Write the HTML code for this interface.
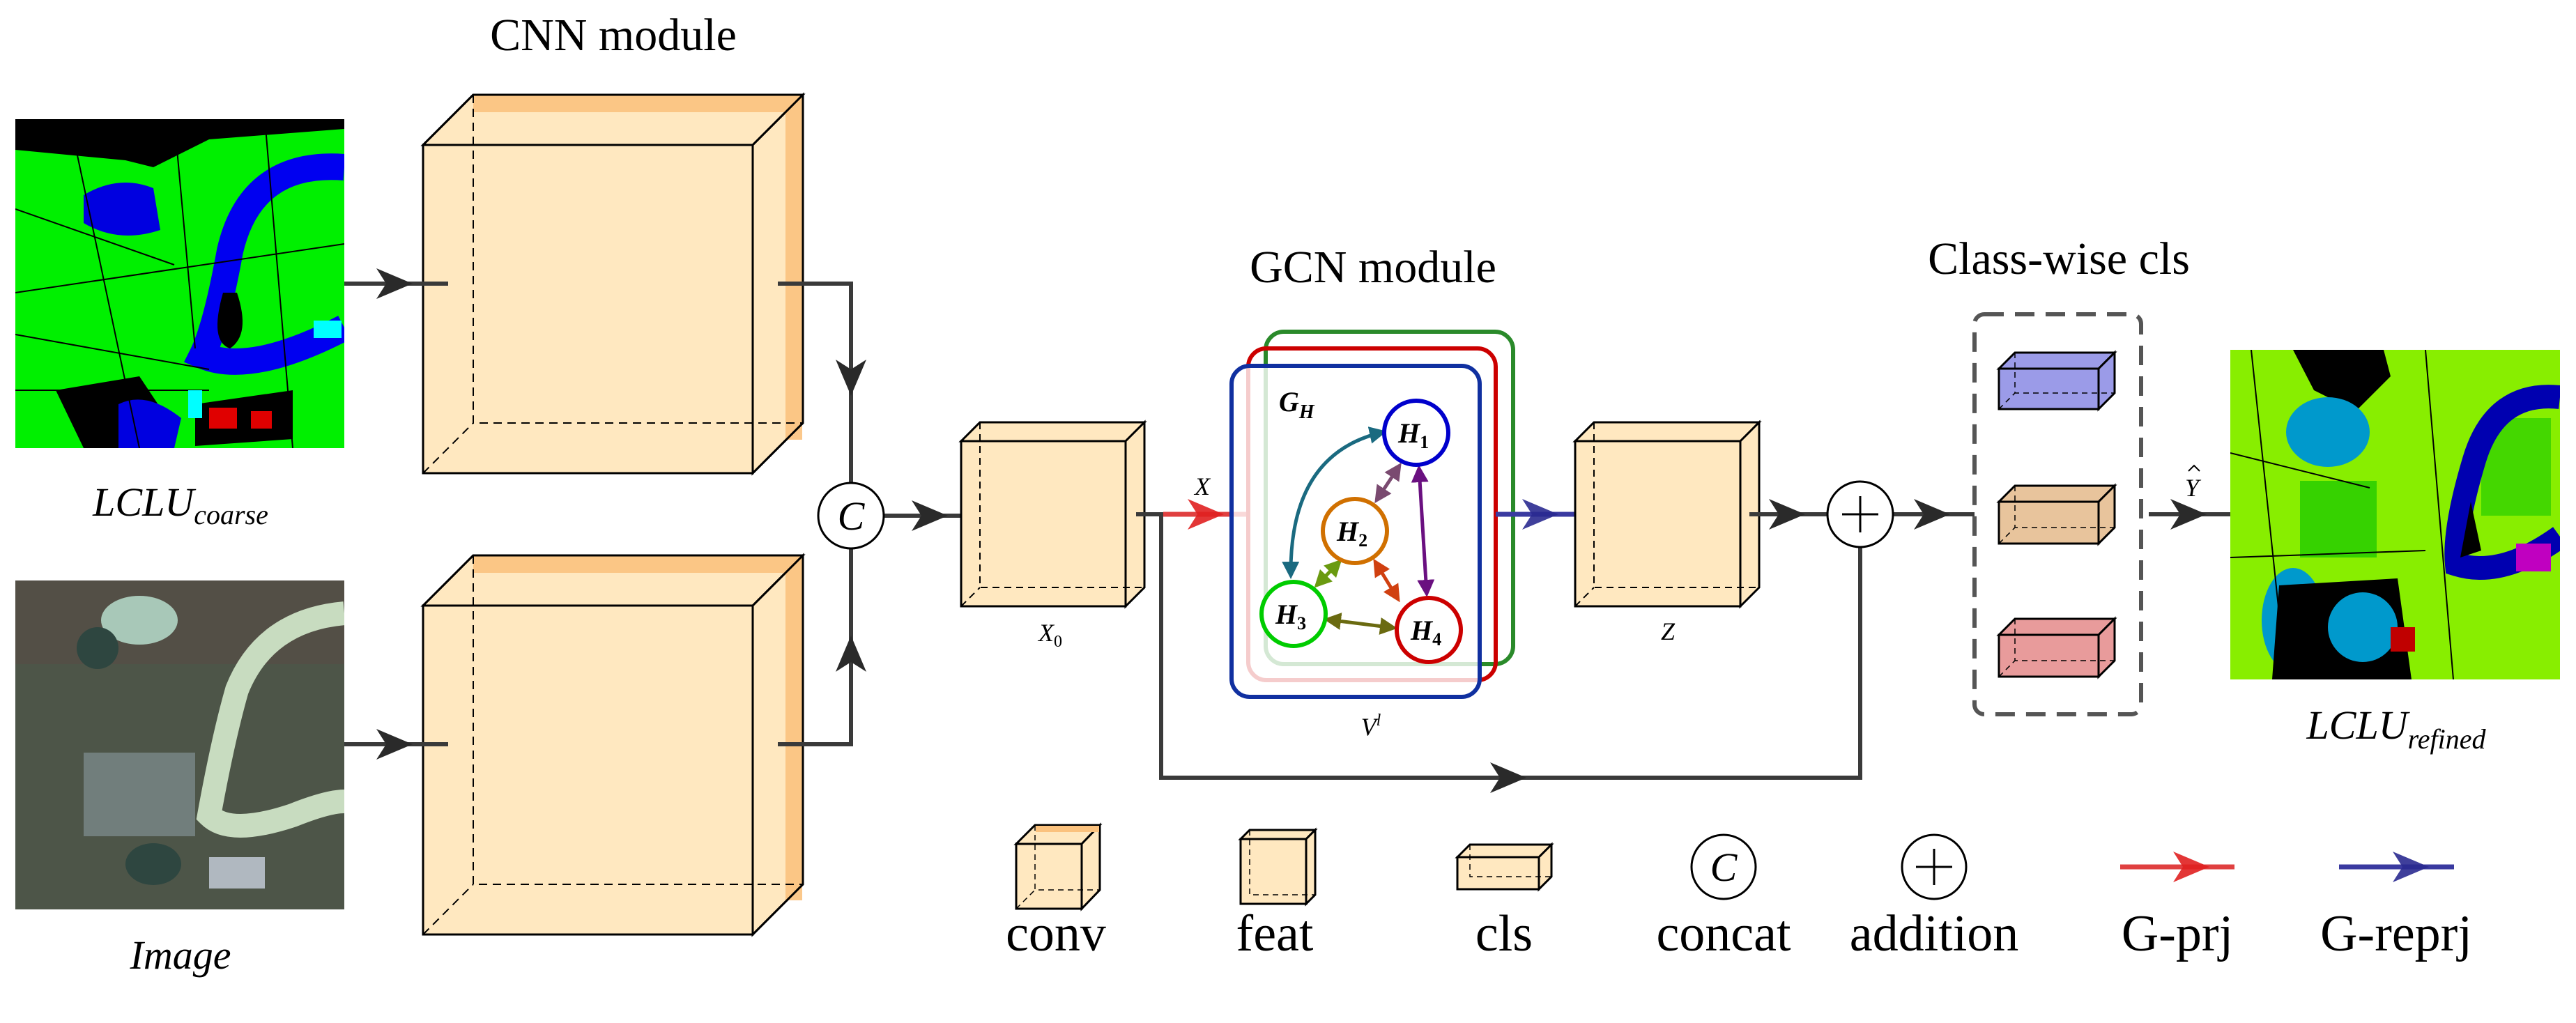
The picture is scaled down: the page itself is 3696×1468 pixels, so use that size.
<!DOCTYPE html>
<html><head><meta charset="utf-8"><style>html,body{margin:0;padding:0;background:#fff}svg{display:block}svg text{font-family:"Liberation Serif","DejaVu Serif",serif}</style></head>
<body>
<svg width="3696" height="1468" viewBox="0 0 3696 1468" xmlns="http://www.w3.org/2000/svg" style="font-family:'Liberation Serif',serif">
<defs>
<path id="ah" d="M0,0 L-52,-22 L-38,0 L-52,22 Z"/>
<clipPath id="c1"><rect x="22" y="171" width="472" height="472"/></clipPath>
<clipPath id="c2"><rect x="22" y="833" width="472" height="472"/></clipPath>
<clipPath id="c3"><rect x="3200" y="502" width="473" height="473"/></clipPath>
<marker id="mb" viewBox="0 0 10 10" refX="8" refY="5" markerWidth="5" markerHeight="5" orient="auto-start-reverse"><path d="M0,0L10,5L0,10Z" fill="context-stroke"/></marker>
</defs>

<!-- Titles -->
<text x="880" y="72" font-size="66" text-anchor="middle">CNN module</text>
<text x="1970" y="405" font-size="66" text-anchor="middle">GCN module</text>
<text x="2954" y="393" font-size="66" text-anchor="middle">Class-wise cls</text>

<!-- LCLU coarse map -->
<g clip-path="url(#c1)">
<rect x="22" y="171" width="472" height="472" fill="#00f000"/>
<path d="M22,171 L494,171 L494,185 L300,200 L220,240 L180,230 L22,215 Z" fill="#000"/>
<path d="M120,280 Q170,250 220,270 L230,330 Q170,350 120,320 Z" fill="#0000e0"/>
<path d="M80,560 L200,540 L240,600 L240,643 L120,643 Z" fill="#000"/>
<path d="M170,580 Q210,560 260,600 L250,643 L170,643 Z" fill="#0000e0"/>
<path d="M494,240 Q360,230 330,360 Q310,470 290,510 Q360,540 494,470" fill="none" stroke="#0000f0" stroke-width="38"/>
<path d="M320,420 Q300,490 330,500 Q360,480 340,420 Z" fill="#000"/>
<path d="M280,580 L420,560 L420,630 L280,640 Z" fill="#000"/>
<rect x="300" y="585" width="40" height="30" fill="#e00000"/>
<rect x="360" y="590" width="30" height="25" fill="#e00000"/>
<g stroke="#000" stroke-width="2" fill="none">
<path d="M22,420 L494,350 M22,480 L300,530 M100,171 L200,643 M22,300 L250,380 M380,171 L420,643 M22,560 L300,560 M250,171 L280,500"/>
</g>
<rect x="450" y="460" width="40" height="25" fill="#00ffff"/>
<rect x="270" y="560" width="20" height="40" fill="#00ffff"/>
</g>

<!-- Satellite image -->
<g clip-path="url(#c2)">
<rect x="22" y="833" width="472" height="472" fill="#4d5548"/>
<rect x="22" y="833" width="472" height="120" fill="#5a4a44" opacity="0.5"/>
<rect x="120" y="1080" width="160" height="120" fill="#8a9aa0" opacity="0.6"/>
<ellipse cx="200" cy="890" rx="55" ry="35" fill="#a8c8b8"/>
<ellipse cx="140" cy="930" rx="30" ry="30" fill="#2e4640"/>
<ellipse cx="220" cy="1240" rx="40" ry="30" fill="#2e4640"/>
<path d="M494,880 Q380,890 340,990 Q320,1060 300,1170 Q330,1200 420,1170 Q470,1150 494,1150" fill="none" stroke="#c8dcc0" stroke-width="34"/>
<rect x="300" y="1230" width="80" height="45" fill="#b0b8c0"/>
</g>

<text x="259" y="740" font-size="58" font-style="italic" text-anchor="middle">LCLU<tspan font-size="40" dy="12">coarse</tspan></text>
<text x="259" y="1390" font-size="58" font-style="italic" text-anchor="middle">Image</text>

<!-- CNN cubes -->
<g stroke="#000" stroke-width="3">
<polygon points="607,208 679,136 1152,136 1080,208" fill="#ffe8c0"/>
<polygon points="1080,208 1152,136 1152,607 1080,679" fill="#ffe8c0"/>
<rect x="607" y="208" width="473" height="471" fill="#ffe8c0"/>
</g>
<rect x="679" y="137" width="472" height="24" fill="#fbc27e" opacity="0.9"/>
<rect x="1127" y="161" width="24" height="470" fill="#fbc27e" opacity="0.9"/>
<g stroke="#000" stroke-width="3" fill="none">
<polygon points="607,208 679,136 1152,136 1152,607 1080,679 607,679"/>
<path d="M1080,208 L1152,136 M1080,208 L1080,679"/>
<path d="M679,136 L679,607 L1152,607 M607,679 L679,607" stroke-dasharray="12,8" stroke-width="2"/>
</g>
<g stroke="#000" stroke-width="3">
<polygon points="607,869 679,797 1152,797 1080,869" fill="#ffe8c0"/>
<polygon points="1080,869 1152,797 1152,1269 1080,1341" fill="#ffe8c0"/>
<rect x="607" y="869" width="473" height="472" fill="#ffe8c0"/>
</g>
<rect x="679" y="798" width="472" height="24" fill="#fbc27e" opacity="0.9"/>
<rect x="1127" y="822" width="24" height="470" fill="#fbc27e" opacity="0.9"/>
<g stroke="#000" stroke-width="3" fill="none">
<polygon points="607,869 679,797 1152,797 1152,1269 1080,1341 607,1341"/>
<path d="M1080,869 L1152,797 M1080,869 L1080,1341"/>
<path d="M679,797 L679,1269 L1152,1269 M607,1341 L679,1269" stroke-dasharray="12,8" stroke-width="2"/>
</g>

<!-- CNN connectors -->
<g stroke="#3a3a3a" stroke-width="6" fill="none">
<path d="M494,407 L643,407"/>
<path d="M494,1068 L643,1068"/>
<path d="M1116,407 L1221,407 L1221,693"/>
<path d="M1116,1068 L1221,1068 L1221,787"/>
<path d="M1268,740 L1379,740"/>
</g>
<g fill="#2a2a2a">
<use href="#ah" transform="translate(592,407)"/>
<use href="#ah" transform="translate(592,1068)"/>
<use href="#ah" transform="translate(1221,568) rotate(90)"/>
<use href="#ah" transform="translate(1221,912) rotate(-90)"/>
<use href="#ah" transform="translate(1360,740)"/>
</g>
<circle cx="1221" cy="740" r="47" fill="#fff" stroke="#000" stroke-width="3"/>
<text x="1221" y="760" font-size="58" font-style="italic" text-anchor="middle">C</text>

<!-- X0 cube -->
<g stroke="#000" stroke-width="3">
<polygon points="1379,633 1406,606 1642,606 1615,633" fill="#ffe8c0"/>
<polygon points="1615,633 1642,606 1642,843 1615,870" fill="#ffe8c0"/>
<rect x="1379" y="633" width="236" height="237" fill="#ffe8c0"/>
</g>
<path d="M1406,606 L1406,843 L1642,843 M1379,870 L1406,843" stroke="#000" stroke-width="2" fill="none" stroke-dasharray="10,7"/>
<text x="1507" y="920" font-size="36" font-style="italic" text-anchor="middle">X<tspan font-size="24" font-style="normal" dy="8">0</tspan></text>

<!-- X0 to GCN -->
<path d="M1630,738 L1669,738" stroke="#3a3a3a" stroke-width="6"/>
<path d="M1669,738 L1791,738" stroke="#e04040" stroke-width="7"/>
<use href="#ah" transform="translate(1756,738)" fill="#e02020" opacity="0.9"/>
<text x="1725" y="710" font-size="36" font-style="italic" text-anchor="middle">X</text>
<!-- skip -->
<path d="M1666,738 L1666,1116 L2669,1116 L2669,785" stroke="#3a3a3a" stroke-width="6" fill="none"/>
<use href="#ah" transform="translate(2190,1116)" fill="#2a2a2a"/>

<!-- GCN rects -->
<rect x="1816" y="476" width="355" height="477" rx="26" fill="none" stroke="#2a8a2a" stroke-width="6"/>
<rect x="1791" y="500" width="355" height="476" rx="26" fill="none" stroke="#cc0000" stroke-width="6"/>
<rect x="1767" y="525" width="356" height="475" rx="26" fill="#fff" fill-opacity="0.8" stroke="#1030a0" stroke-width="6"/>
<text x="1835" y="590" font-size="40" font-style="italic" font-weight="bold">G<tspan font-size="28" dy="10">H</tspan></text>

<!-- graph edges -->
<g fill="none" stroke-width="5" marker-start="url(#mb)" marker-end="url(#mb)">
<path d="M1985,620 Q1850,650 1852,826" stroke="#1a6a80"/>
<path d="M2008,668 L1975,718" stroke="#7a4a70"/>
<path d="M2036,672 L2047,852" stroke="#6a1080"/>
<path d="M1922,806 L1889,840" stroke="#6a9a10"/>
<path d="M1973,806 L2006,860" stroke="#d04010"/>
<path d="M1904,889 L2000,901" stroke="#6a6a10"/>
</g>
<g stroke-width="6" fill="#fff">
<circle cx="2032" cy="621" r="46" stroke="#0000cc"/>
<circle cx="1944" cy="762" r="46" stroke="#d07000"/>
<circle cx="1856" cy="881" r="46" stroke="#00cc00"/>
<circle cx="2050" cy="904" r="46" stroke="#cc0000"/>
</g>
<g font-size="40" font-style="italic" font-weight="bold" text-anchor="middle">
<text x="2028" y="635">H<tspan font-size="26" font-style="normal" dy="8">1</tspan></text>
<text x="1940" y="776">H<tspan font-size="26" font-style="normal" dy="8">2</tspan></text>
<text x="1852" y="895">H<tspan font-size="26" font-style="normal" dy="8">3</tspan></text>
<text x="2046" y="918">H<tspan font-size="26" font-style="normal" dy="8">4</tspan></text>
</g>
<text x="1967" y="1055" font-size="36" font-style="italic" text-anchor="middle">V<tspan font-size="24" dy="-14">l</tspan></text>

<!-- GCN out -->
<path d="M2146,738 L2274,738" stroke="#3a3aa0" stroke-width="7"/>
<use href="#ah" transform="translate(2236,738)" fill="#2a2a90" opacity="0.9"/>

<!-- Z cube -->
<g stroke="#000" stroke-width="3">
<polygon points="2260,633 2287,606 2524,606 2497,633" fill="#ffe8c0"/>
<polygon points="2497,633 2524,606 2524,843 2497,870" fill="#ffe8c0"/>
<rect x="2260" y="633" width="237" height="237" fill="#ffe8c0"/>
</g>
<path d="M2287,606 L2287,843 L2524,843 M2260,870 L2287,843" stroke="#000" stroke-width="2" fill="none" stroke-dasharray="10,7"/>
<text x="2393" y="918" font-size="36" font-style="italic" text-anchor="middle">Z</text>

<g stroke="#3a3a3a" stroke-width="6">
<path d="M2510,738 L2622,738"/>
<path d="M2716,738 L2833,738"/>
<path d="M3083,738 L3200,738"/>
</g>
<g fill="#2a2a2a">
<use href="#ah" transform="translate(2590,738)"/>
<use href="#ah" transform="translate(2798,738)"/>
<use href="#ah" transform="translate(3166,738)"/>
</g>
<circle cx="2669" cy="738" r="47" fill="#fff" stroke="#000" stroke-width="3"/>
<path d="M2669,712 L2669,764 M2643,738 L2695,738" stroke="#000" stroke-width="3"/>
<text x="3145" y="712" font-size="36" font-style="italic" text-anchor="middle">Y</text>
<path d="M3140,676 L3148,668 L3156,676" stroke="#000" stroke-width="2" fill="none"/>

<!-- dashed box -->
<rect x="2833" y="451" width="239" height="574" rx="14" fill="none" stroke="#555" stroke-width="6" stroke-dasharray="28,16"/>
<g stroke="#000" stroke-width="3">
<polygon points="2868,529 2891,506 3034,506 3011,529" fill="#9b9be8"/>
<polygon points="3011,529 3034,506 3034,564 3011,587" fill="#9b9be8"/>
<rect x="2868" y="529" width="143" height="58" fill="#9b9be8"/>
<polygon points="2868,720 2891,697 3034,697 3011,720" fill="#e8c49c"/>
<polygon points="3011,720 3034,697 3034,757 3011,780" fill="#e8c49c"/>
<rect x="2868" y="720" width="143" height="60" fill="#e8c49c"/>
<polygon points="2868,911 2891,888 3034,888 3011,911" fill="#e89b9b"/>
<polygon points="3011,911 3034,888 3034,948 3011,971" fill="#e89b9b"/>
<rect x="2868" y="911" width="143" height="60" fill="#e89b9b"/>
</g>
<g stroke="#000" stroke-width="1.5" fill="none" stroke-dasharray="8,6">
<path d="M2891,506 L2891,564 L3034,564 M2868,587 L2891,564"/>
<path d="M2891,697 L2891,757 L3034,757 M2868,780 L2891,757"/>
<path d="M2891,888 L2891,948 L3034,948 M2868,971 L2891,948"/>
</g>

<!-- refined map -->
<g clip-path="url(#c3)">
<rect x="3200" y="502" width="473" height="473" fill="#88ee00"/>
<path d="M3290,502 L3420,502 L3430,540 L3380,590 L3320,560 Z" fill="#000"/>
<ellipse cx="3340" cy="620" rx="60" ry="50" fill="#0099cc"/>
<ellipse cx="3290" cy="890" rx="45" ry="75" fill="#0099cc"/>
<path d="M3270,840 L3440,830 L3460,975 L3260,975 Z" fill="#000"/>
<ellipse cx="3390" cy="900" rx="50" ry="50" fill="#0099cc"/>
<rect x="3300" y="690" width="110" height="110" fill="#00c000" opacity="0.6"/>
<rect x="3560" y="600" width="100" height="140" fill="#00c000" opacity="0.5"/>
<path d="M3673,570 Q3580,560 3550,660 Q3520,760 3525,810 Q3590,830 3673,770" fill="none" stroke="#0000b0" stroke-width="34"/>
<path d="M3545,720 L3560,790 L3530,800 Z" fill="#000"/>
<rect x="3610" y="780" width="50" height="40" fill="#c000c0"/>
<rect x="3430" y="900" width="35" height="35" fill="#c00000"/>
<g stroke="#000" stroke-width="2" fill="none">
<path d="M3200,800 L3480,790 M3230,502 L3280,975 M3200,650 L3400,700 M3480,502 L3520,975"/>
</g>
</g>
<text x="3438" y="1060" font-size="58" font-style="italic" text-anchor="middle">LCLU<tspan font-size="40" dy="14">refined</tspan></text>

<!-- Legend -->
<g stroke="#000" stroke-width="3">
<polygon points="1458,1211 1485,1184 1578,1184 1552,1211" fill="#ffe8c0"/>
<polygon points="1552,1211 1578,1184 1578,1277 1552,1304" fill="#ffe8c0"/>
<rect x="1458" y="1211" width="94" height="93" fill="#ffe8c0"/>
<polygon points="1780,1204 1793,1191 1887,1191 1874,1204" fill="#ffe8c0"/>
<polygon points="1874,1204 1887,1191 1887,1284 1874,1297" fill="#ffe8c0"/>
<rect x="1780" y="1204" width="94" height="93" fill="#ffe8c0"/>
<polygon points="2091,1230 2109,1212 2226,1212 2208,1230" fill="#ffe8c0"/>
<polygon points="2208,1230 2226,1212 2226,1258 2208,1276" fill="#ffe8c0"/>
<rect x="2091" y="1230" width="117" height="46" fill="#ffe8c0"/>
</g>
<rect x="1486" y="1185" width="91" height="9" fill="#fbc27e"/>
<g stroke="#000" stroke-width="1.5" fill="none" stroke-dasharray="8,6">
<path d="M1485,1184 L1485,1277 L1578,1277 M1458,1304 L1485,1277"/>
<path d="M1793,1191 L1793,1284 L1887,1284"/>
<path d="M2109,1212 L2109,1258 L2226,1258"/>
</g>
<circle cx="2473" cy="1244" r="46" fill="#fff" stroke="#000" stroke-width="3"/>
<text x="2473" y="1264" font-size="58" font-style="italic" text-anchor="middle">C</text>
<circle cx="2775" cy="1244" r="46" fill="#fff" stroke="#000" stroke-width="3"/>
<path d="M2775,1218 L2775,1270 M2749,1244 L2801,1244" stroke="#000" stroke-width="3"/>
<path d="M3042,1244 L3206,1244" stroke="#e04040" stroke-width="7"/>
<use href="#ah" transform="translate(3170,1244)" fill="#e02020" opacity="0.9"/>
<path d="M3356,1244 L3521,1244" stroke="#3a3aa0" stroke-width="7"/>
<use href="#ah" transform="translate(3485,1244)" fill="#2a2a90" opacity="0.9"/>
<g font-size="74" text-anchor="middle">
<text x="1515" y="1364">conv</text>
<text x="1829" y="1364">feat</text>
<text x="2158" y="1364">cls</text>
<text x="2473" y="1364">concat</text>
<text x="2775" y="1364">addition</text>
<text x="3124" y="1364">G-prj</text>
<text x="3438" y="1364">G-reprj</text>
</g>
</svg>
</body></html>
